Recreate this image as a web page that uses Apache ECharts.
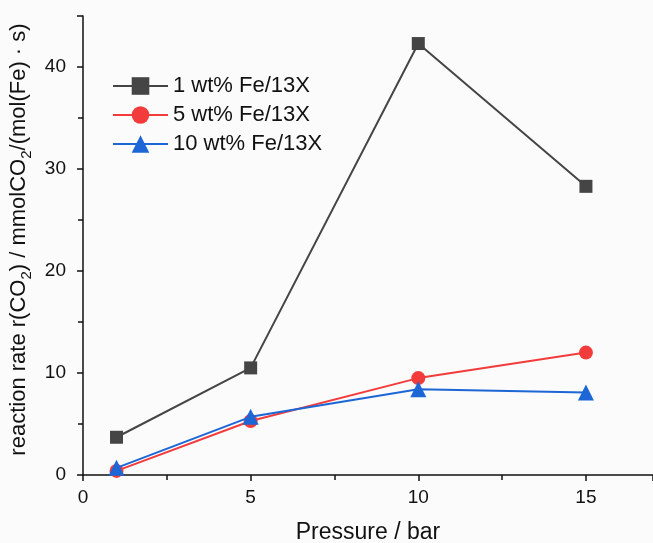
<!DOCTYPE html>
<html>
<head>
<meta charset="utf-8">
<script src="https://cdn.jsdelivr.net/npm/echarts@6/dist/echarts.min.js"></script>
<style>
  html, body { margin: 0; padding: 0; background: #ffffff; }
  #chart { width: 653px; height: 543px; }
</style>
</head>
<body>
<div id="chart"></div>
<script>
// Pressure points (bar)
const pressure = [1, 5, 10, 15];

// Reaction rate r(CO2) per catalyst loading
const rate1wt = [3.7, 10.5, 42.3, 28.3];
const rate5wt = [0.4, 5.3, 9.5, 12.0];
const rate10wt = [0.7, 5.7, 8.4, 8.1];

const seriesNames = ['1 wt% Fe/13X', '5 wt% Fe/13X', '10 wt% Fe/13X'];
const seriesColors = ['#454545', '#f23b3b', '#1c66d6'];

const font = '"Liberation Sans", Arial, sans-serif';
const ink = '#111';

function pairs(xs, ys) {
  return xs.map((x, i) => [x, ys[i]]);
}

const chart = echarts.init(document.getElementById('chart'), null, { renderer: 'canvas' });

const axisBase = {
  axisLine: { show: true, onZero: false, lineStyle: { color: ink, width: 1.5 } },
  axisTick: { show: true, inside: false, length: 6, lineStyle: { color: ink, width: 1.5 } },
  minorTick: { show: true, splitNumber: 2, length: 5, lineStyle: { color: ink, width: 1.5 } },
  splitLine: { show: false },
  axisLabel: { color: ink, fontFamily: font, fontSize: 19, showMaxLabel: false }
};

chart.setOption({
  backgroundColor: '#fbfbfb',
  animation: false,
  grid: { left: 83, right: 0, top: 16, bottom: 68, containLabel: false, outerBoundsMode: 'none' },
  legend: {
    orient: 'vertical',
    left: 107,
    top: 70,
    itemWidth: 55,
    itemHeight: 22,
    itemGap: 7,
    textStyle: { fontFamily: font, fontSize: 22, color: ink },
    data: seriesNames
  },
  xAxis: Object.assign({}, axisBase, {
    type: 'value',
    min: 0,
    max: 17,
    interval: 5,
    name: 'Pressure / bar',
    nameLocation: 'middle',
    nameGap: 46,
    nameTextStyle: { fontFamily: font, fontSize: 23, color: ink },
    axisLabel: Object.assign({}, axisBase.axisLabel, { margin: 13 })
  }),
  yAxis: Object.assign({}, axisBase, {
    type: 'value',
    min: 0,
    max: 45,
    interval: 10,
    name: '{a|reaction rate r(CO}{s|2}{a|) / mmolCO}{s|2}{a|/(mol(Fe) · s)}',
    nameLocation: 'middle',
    nameGap: 43,
    nameRotate: 90,
    nameTextStyle: {
      fontFamily: font,
      fontSize: 22,
      color: ink,
      padding: [0, 0, 0, 12],
      rich: {
        a: { fontFamily: font, fontSize: 22, color: ink, lineHeight: 26, verticalAlign: 'bottom' },
        s: { fontFamily: font, fontSize: 15, color: ink, lineHeight: 26, verticalAlign: 'bottom', padding: [0, 0, -4, 0] }
      }
    },
    axisLabel: Object.assign({}, axisBase.axisLabel, { margin: 17 })
  }),
  series: [
    {
      name: seriesNames[0],
      type: 'line',
      data: pairs(pressure, rate1wt),
      symbol: 'rect',
      symbolSize: 13,
      color: seriesColors[0],
      lineStyle: { width: 2, color: seriesColors[0] },
      itemStyle: { color: seriesColors[0] },
      z: 3
    },
    {
      name: seriesNames[1],
      type: 'line',
      data: pairs(pressure, rate5wt),
      symbol: 'circle',
      symbolSize: 14,
      color: seriesColors[1],
      lineStyle: { width: 2, color: seriesColors[1] },
      itemStyle: { color: seriesColors[1] },
      z: 4
    },
    {
      name: seriesNames[2],
      type: 'line',
      data: pairs(pressure, rate10wt),
      symbol: 'triangle',
      symbolSize: 16,
      color: seriesColors[2],
      lineStyle: { width: 2, color: seriesColors[2] },
      itemStyle: { color: seriesColors[2] },
      z: 5
    }
  ]
});
</script>
</body>
</html>
